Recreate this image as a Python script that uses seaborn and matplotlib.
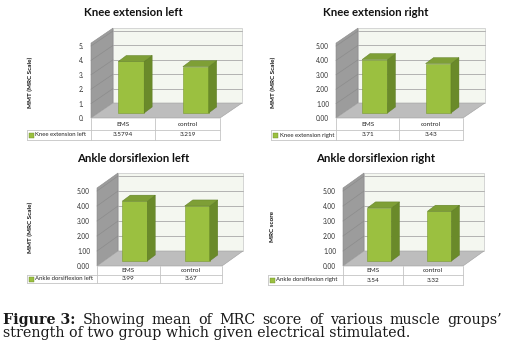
import matplotlib
matplotlib.use("Agg")
import matplotlib.pyplot as plt
import seaborn as sns
import pandas as pd
from matplotlib.patches import Polygon, Rectangle
from matplotlib.lines import Line2D
from matplotlib.transforms import Affine2D, IdentityTransform

# ---------------- data ----------------
groups = ["EMS", "control"]
titles = ["Knee extension left", "Knee extension right",
          "Ankle dorsiflexion left", "Ankle dorsiflexion right"]
series_names = ["Knee extension left", "Knee extension right",
                "Ankle dorsiflexion left", "Ankle dorsiflexion right"]
knee_left = [3.5794, 3.219]
knee_right = [3.71, 3.43]
ankle_left = [3.99, 3.67]
ankle_right = [3.54, 3.32]
value_labels = [["3.5794", "3.219"], ["3.71", "3.43"], ["3.99", "3.67"], ["3.54", "3.32"]]
tick_values = [0, 1, 2, 3, 4, 5]
tick_labels_short = ["0.", "1.", "2.", "3.", "4.", "5."]
tick_labels_full = ["0.00", "1.00", "2.00", "3.00", "4.00", "5.00"]
ylabels = ["MMT (MRC Scale)", "MMT (MRC Scale)", "MMT (MRC Scale)", "MRC score"]
caption_bold = "Figure 3:"
caption_line1 = "Showing mean of MRC score of various muscle groups’"
caption_line2 = "strength of two group which given electrical stimulated."

values = [knee_left, knee_right, ankle_left, ankle_right]

# ---------------- layout (pixels) ----------------
W, H = 506, 361
panels = [
    dict(L=91, R=220, B=118, unit=14.4, wall=(22, -15), bar=(8, -5), depth=(8, -6),
         title=(133, 13), ylab=(30, 82), leg=27, rows=(12, 10), ticks=tick_labels_short),
    dict(L=336, R=463, B=118, unit=14.4, wall=(22, -15), bar=(7, -5), depth=(8, -6),
         title=(376, 13), ylab=(273, 82), leg=271, rows=(12, 10), ticks=tick_labels_full),
    dict(L=97, R=222, B=266, unit=15.0, wall=(21, -15), bar=(6.5, -5), depth=(8, -6),
         title=(133, 158), ylab=(30, 227), leg=27, rows=(9, 8), ticks=tick_labels_full),
    dict(L=343, R=463, B=266, unit=15.0, wall=(21, -15), bar=(6.5, -5), depth=(8, -6),
         title=(376, 158), ylab=(272, 226), leg=268, rows=(9, 10), ticks=tick_labels_full),
]
YMAX = 5.2

front_c = "#9bc040"
side_c = "#6a8a2a"
top_c = "#7e9f36"
wall_side_c = "#9c9c9c"
floor_c = "#bdbdbd"
back_c = "#f4f7f0"
grid_c = "#a8a8a8"
table_c = "#c4c4c4"
FONT = "Lato"

sns.set_theme(style="white")
plt.rcParams["font.family"] = [FONT, "DejaVu Sans"]

fig = plt.figure(figsize=(W / 100, H / 100), dpi=100)
fig.patch.set_facecolor("white")


def fx(x):
    return x / W


def fy(y):
    return 1 - y / H


def P(pts):
    return [(fx(x), fy(y)) for x, y in pts]


for i, p in enumerate(panels):
    L, R, B, u = p["L"], p["R"], p["B"], p["unit"]
    dx, dy = p["wall"]
    T = B - YMAX * u
    # back wall, side wall, floor (decoration)
    fig.patches.append(Polygon(P([(L + dx, T + dy), (R + dx, T + dy), (R + dx, B + dy), (L + dx, B + dy)]),
                               closed=True, transform=fig.transFigure, facecolor=back_c,
                               edgecolor="#cfcfcf", lw=0.6, zorder=-3))
    fig.patches.append(Polygon(P([(L, B), (L + dx, B + dy), (L + dx, T + dy), (L, T)]),
                               closed=True, transform=fig.transFigure, facecolor=wall_side_c,
                               edgecolor="#8a8a8a", lw=0.4, zorder=-3))
    fig.patches.append(Polygon(P([(L, B), (R, B), (R + dx, B + dy), (L + dx, B + dy)]),
                               closed=True, transform=fig.transFigure, facecolor=floor_c,
                               edgecolor="#a0a0a0", lw=0.4, zorder=-2))
    for k in tick_values[1:]:
        yy = B + dy - k * u
        fig.lines.append(Line2D([fx(L + dx), fx(R + dx)], [fy(yy), fy(yy)], transform=fig.transFigure,
                                color=grid_c, lw=0.6, zorder=-2.5))
        fig.lines.append(Line2D([fx(L), fx(L + dx)], [fy(B - k * u), fy(yy)], transform=fig.transFigure,
                                color="#8c8c8c", lw=0.5, zorder=-2.5))

    # axes = front plane
    ax = fig.add_axes([fx(L), fy(B), (R - L) / W, (B - T) / H])
    ax.patch.set_visible(False)
    df = pd.DataFrame({"group": groups, "value": values[i]})
    sns.barplot(data=df, x="group", y="value", color=front_c, width=0.4, ax=ax,
                saturation=1, edgecolor="#7a9a30", linewidth=0.4)
    ax.set_xlim(-0.5, 1.5)
    ax.set_ylim(0, YMAX)
    ax.set_yticks(tick_values)
    ax.set_yticklabels(p["ticks"], fontsize=4.7, color="#333333")
    ax.tick_params(axis="y", length=0, pad=5)
    ax.set_xticks([])
    ax.set_xlabel("")
    ax.set_ylabel("")
    for s in ax.spines.values():
        s.set_visible(False)

    # pseudo-3D faces derived from the bars drawn by seaborn
    bx, by = p["bar"]
    ddx, ddy = p["depth"]
    off = Affine2D().translate(bx, -by)
    for bar in ax.patches:
        bar.set_transform(ax.transData + off)
        x0 = bar.get_x()
        x1 = x0 + bar.get_width()
        h = bar.get_height()
        (X0, Y0) = ax.transData.transform((x0, 0))
        (X1, Y1) = ax.transData.transform((x1, h))
        X0 += bx; X1 += bx; Y0 -= by; Y1 -= by
        side = Polygon([(X1, Y0), (X1 + ddx, Y0 - ddy), (X1 + ddx, Y1 - ddy), (X1, Y1)],
                       closed=True, transform=IdentityTransform(), facecolor=side_c,
                       edgecolor="#5a7a20", lw=0.3, clip_on=False, zorder=3)
        top = Polygon([(X0, Y1), (X1, Y1), (X1 + ddx, Y1 - ddy), (X0 + ddx, Y1 - ddy)],
                      closed=True, transform=IdentityTransform(), facecolor=top_c,
                      edgecolor="#5a7a20", lw=0.3, clip_on=False, zorder=3)
        ax.add_artist(side)
        ax.add_artist(top)

    # title and y label
    fig.text(fx(p["title"][0]), fy(p["title"][1]), titles[i], ha="center", va="center",
             fontsize=8.2, fontweight="bold", color="#111111")
    fig.text(fx(p["ylab"][0]), fy(p["ylab"][1]), ylabels[i], ha="center", va="center",
             rotation=90, fontsize=4.6, fontweight="bold", color="#111111")

    # data table below the plot
    r1, r2 = p["rows"]
    M = (L + R) / 2
    lg = p["leg"]
    y_a, y_b, y_c = B, B + r1, B + r1 + r2
    segs = [((L, y_a), (L, y_c)), ((M, y_a), (M, y_c)), ((R, y_a), (R, y_c)),
            ((lg, y_b), (R, y_b)), ((lg, y_c), (R, y_c)), ((lg, y_b), (lg, y_c))]
    for (xa, ya), (xb, yb) in segs:
        fig.lines.append(Line2D([fx(xa), fx(xb)], [fy(ya), fy(yb)], transform=fig.transFigure,
                                color=table_c, lw=0.6, zorder=1))
    for j, g in enumerate(groups):
        cx = (L + M) / 2 if j == 0 else (M + R) / 2
        fig.text(fx(cx), fy((y_a + y_b) / 2), g, ha="center", va="center", fontsize=4.6, color="#222222")
        fig.text(fx(cx), fy((y_b + y_c) / 2), value_labels[i][j], ha="center", va="center",
                 fontsize=4.6, color="#222222")
    fig.patches.append(Rectangle((fx(lg + 2), fy((y_b + y_c) / 2 + 2.5)), 5 / W, 5 / H,
                                 transform=fig.transFigure, facecolor=front_c, edgecolor="#6a8a2a",
                                 lw=0.3, zorder=2))
    fig.text(fx(lg + 8.5), fy((y_b + y_c) / 2), series_names[i], ha="left", va="center",
             fontsize=4.3, color="#222222")

# ---------------- caption ----------------
serif = ["DejaVu Serif", "Liberation Serif"]
fs = 10.3
renderer = fig.canvas.get_renderer()
words1 = [(caption_bold, "bold")] + [(w, "normal") for w in caption_line1.split(" ")]
texts = []
for w, wt in words1:
    t = fig.text(0, fy(320), w, ha="left", va="center", fontsize=fs, family=serif,
                 fontweight=wt, color="#1a1a1a")
    texts.append(t)
widths = [t.get_window_extent(renderer).width for t in texts]
x_left, x_right = 3.0, 502.0
gap = (x_right - x_left - sum(widths)) / (len(texts) - 1)
xc = x_left
for t, wd in zip(texts, widths):
    t.set_x(fx(xc))
    xc += wd + gap
fig.text(fx(3), fy(333), caption_line2, ha="left", va="center", fontsize=fs, family=serif,
         color="#1a1a1a")

fig.savefig("out.png", dpi=100, facecolor="white")
